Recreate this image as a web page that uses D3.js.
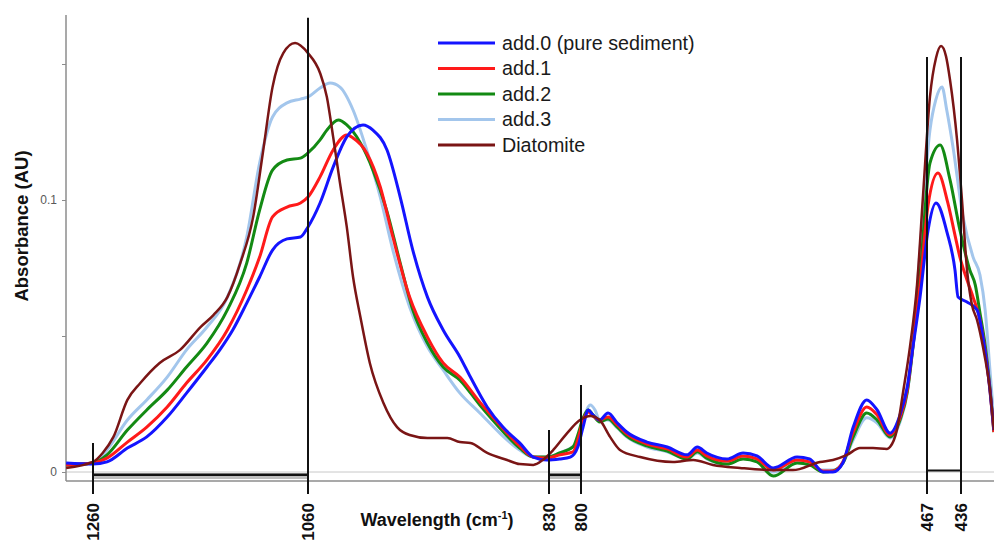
<!DOCTYPE html>
<html>
<head>
<meta charset="utf-8">
<script src="https://cdn.jsdelivr.net/npm/d3@7"></script>
<style>
  body { margin: 0; background: #fff; }
  svg { display: block; font-family: "Liberation Sans", Arial, sans-serif; }
</style>
</head>
<body>
<svg id="chart" width="994" height="543"></svg>
<script>
// spectra: [wavenumber (cm-1), absorbance]
const add0 = [[1285,0.0033],[1260,0.0029],[1247,0.0037],[1228,0.0088],[1210,0.0129],[1191,0.0202],[1173,0.0290],[1154,0.0386],[1142,0.0449],[1130,0.0522],[1117,0.0621],[1105,0.0717],[1093,0.0816],[1079.5,0.0857],[1067,0.0864],[1060,0.0901],[1048.5,0.0989],[1036,0.1121],[1023,0.1232],[1007.5,0.1276],[998,0.1257],[984.6,0.1184],[972,0.1011],[960,0.0816],[946,0.0643],[931,0.0522],[915,0.0423],[905,0.0349],[889,0.0239],[874,0.0165],[858,0.0107],[845,0.0055],[832,0.0044],[820,0.0048],[810,0.0055],[803,0.0092],[798,0.0165],[793,0.0228],[788.5,0.0210],[782,0.0191],[774,0.0217],[765,0.0180],[756,0.0147],[736.5,0.0110],[717,0.0092],[698,0.0063],[688,0.0092],[679,0.0070],[659.5,0.0048],[644,0.0070],[630.6,0.0059],[615,0.0015],[592,0.0055],[580,0.0048],[567,0.0000],[557.5,0.0000],[548,0.0033],[538,0.0165],[525,0.0265],[515,0.0228],[502.6,0.0143],[493,0.0210],[486,0.0313],[480.5,0.0460],[473.7,0.0643],[466,0.0890],[458.8,0.0989],[448.8,0.0882],[441.5,0.0743],[438.7,0.0643],[430.5,0.0625],[421.4,0.0596],[416,0.0496],[409.6,0.0301],[406,0.0154]];

const add1 = [[1285,0.0026],[1260,0.0033],[1247,0.0051],[1228,0.0110],[1210,0.0165],[1191,0.0239],[1173,0.0327],[1154,0.0412],[1135,0.0522],[1117,0.0669],[1105,0.0790],[1093,0.0938],[1079.5,0.0974],[1067,0.0989],[1060,0.1011],[1048.5,0.1085],[1036,0.1184],[1023,0.1239],[1017,0.1228],[1004,0.1173],[991,0.1048],[979,0.0864],[963,0.0643],[946,0.0496],[931,0.0401],[915,0.0349],[896,0.0257],[877,0.0173],[858,0.0096],[845,0.0055],[832,0.0051],[820,0.0063],[807.5,0.0074],[803,0.0118],[798,0.0191],[793,0.0221],[788.5,0.0206],[782,0.0191],[774,0.0202],[765,0.0173],[756,0.0140],[736.5,0.0103],[717,0.0085],[698,0.0055],[688,0.0081],[679,0.0059],[659.5,0.0040],[644,0.0059],[630.6,0.0048],[615,0.0007],[592,0.0044],[580,0.0037],[567,0.0004],[557.5,0.0004],[548,0.0037],[538,0.0147],[525,0.0239],[515,0.0210],[502.6,0.0136],[493,0.0199],[486,0.0301],[480.5,0.0467],[473.7,0.0688],[466,0.0982],[457,0.1099],[448,0.0989],[441.5,0.0871],[437,0.0790],[430.5,0.0706],[425,0.0643],[418.7,0.0559],[414,0.0449],[409.6,0.0301],[406,0.0147]];

const add2 = [[1285,0.0026],[1260,0.0033],[1247,0.0063],[1228,0.0154],[1210,0.0228],[1191,0.0301],[1173,0.0386],[1154,0.0474],[1135,0.0596],[1117,0.0768],[1105,0.0963],[1093,0.1110],[1079.5,0.1147],[1067,0.1154],[1060,0.1173],[1048.5,0.1221],[1042,0.1257],[1031,0.1294],[1023,0.1276],[1010,0.1210],[998,0.1110],[985,0.0963],[972,0.0768],[960,0.0596],[946,0.0474],[931,0.0386],[915,0.0338],[896,0.0246],[877,0.0162],[858,0.0088],[845,0.0055],[832,0.0055],[820,0.0070],[807.5,0.0092],[803,0.0136],[798,0.0199],[793,0.0228],[788.5,0.0210],[782,0.0184],[774,0.0195],[765,0.0165],[756,0.0132],[736.5,0.0096],[717,0.0077],[698,0.0048],[688,0.0074],[679,0.0051],[659.5,0.0029],[644,0.0048],[630.6,0.0037],[615,-0.0015],[592,0.0033],[580,0.0026],[567,0.0000],[557.5,0.0004],[548,0.0033],[538,0.0129],[525,0.0217],[515,0.0191],[502.6,0.0129],[493,0.0191],[486,0.0294],[480.5,0.0460],[473.7,0.0724],[464.3,0.1136],[455,0.1202],[446,0.1074],[437,0.0890],[428,0.0743],[423,0.0688],[418.7,0.0585],[414,0.0467],[409.6,0.0309],[406,0.0147]];

const add3 = [[1285,0.0026],[1260,0.0033],[1247,0.0081],[1228,0.0191],[1210,0.0265],[1191,0.0349],[1173,0.0449],[1154,0.0533],[1135,0.0643],[1117,0.0864],[1105,0.1136],[1093,0.1305],[1079.5,0.1357],[1067,0.1371],[1060,0.1379],[1048.5,0.1412],[1039,0.1430],[1029.5,0.1415],[1017,0.1331],[1004,0.1184],[991,0.1011],[979,0.0816],[963,0.0607],[946,0.0460],[931,0.0375],[915,0.0290],[896,0.0217],[877,0.0143],[858,0.0081],[845,0.0055],[832,0.0055],[820,0.0070],[804,0.0107],[798,0.0191],[791,0.0246],[786.5,0.0228],[782,0.0191],[774,0.0191],[765,0.0162],[756,0.0129],[736.5,0.0092],[717,0.0074],[698,0.0048],[688,0.0070],[679,0.0048],[659.5,0.0029],[644,0.0051],[630.6,0.0040],[615,0.0000],[592,0.0037],[580,0.0029],[567,0.0007],[557.5,0.0007],[548,0.0033],[538,0.0118],[525,0.0199],[515,0.0180],[502.6,0.0125],[493,0.0184],[486,0.0290],[480.5,0.0467],[473.7,0.0816],[464.3,0.1257],[459,0.1368],[453.3,0.1415],[449,0.1331],[443.3,0.1195],[434.2,0.0938],[425,0.0790],[418.7,0.0724],[414,0.0596],[409.6,0.0375],[406,0.0191]];

const diatomite = [[1285,0.0015],[1260,0.0037],[1251,0.0070],[1241,0.0129],[1228,0.0265],[1216,0.0327],[1198,0.0401],[1179,0.0449],[1160,0.0533],[1148,0.0577],[1135,0.0643],[1123,0.0768],[1111,0.0938],[1102,0.1173],[1093,0.1415],[1083,0.1540],[1072,0.1577],[1060,0.1540],[1048.5,0.1467],[1042,0.1379],[1036,0.1232],[1029.5,0.1063],[1023,0.0901],[1017,0.0717],[1010,0.0570],[1001,0.0401],[988,0.0254],[975,0.0165],[963,0.0136],[946,0.0125],[927,0.0125],[915,0.0110],[905,0.0107],[889,0.0070],[870,0.0044],[858,0.0029],[845,0.0026],[836,0.0044],[826,0.0081],[813,0.0143],[801,0.0191],[791,0.0206],[782,0.0191],[772,0.0129],[762.5,0.0081],[743,0.0055],[711.5,0.0037],[692,0.0044],[673,0.0026],[647,0.0015],[615,0.0007],[596,0.0007],[570,0.0037],[557.5,0.0044],[544,0.0063],[531.5,0.0088],[519,0.0088],[505.5,0.0085],[502.6,0.0092],[496,0.0154],[490,0.0294],[483.4,0.0460],[476.6,0.0688],[470.8,0.1018],[464.3,0.1379],[458.8,0.1522],[454.2,0.1566],[449.7,0.1529],[446,0.1441],[439.6,0.1221],[435.1,0.1000],[430.5,0.0743],[426,0.0614],[421.4,0.0559],[416,0.0460],[409.6,0.0301],[406,0.0154]];

const seriesNames = ['add.0 (pure sediment)', 'add.1', 'add.2', 'add.3', 'Diatomite'];
const seriesColors = ['#1414ff', '#ff1a1a', '#138a13', '#a3c6ec', '#7a1515'];

// marker wavenumbers and the absorbance where each marker line stops
const markerWaves = [1260, 1060, 830, 800, 467, 436];
const markerTops = [0.0107, 0.167, 0.0154, 0.032, 0.1526, 0.1526];
const yTicks = [0, 0.05, 0.1, 0.15];
const yTickLabels = ['0', '', '0.1', ''];

const svg = d3.select('#chart');
const plotLeft = 66, plotRight = 994, plotTop = 15, plotBottom = 481;

const x = d3.scaleLinear().domain(markerWaves).range([93, 308, 549, 581, 927, 961]);
const y = d3.scaleLinear().domain([0, 0.1]).range([472, 200]);

svg.append('clipPath').attr('id', 'plot')
    .append('rect').attr('x', plotLeft).attr('y', plotTop)
    .attr('width', plotRight - plotLeft).attr('height', plotBottom - plotTop);

// zero line
svg.append('line')
    .attr('x1', plotLeft).attr('x2', plotRight).attr('y1', y(0)).attr('y2', y(0))
    .attr('stroke', '#c8c8c8').attr('stroke-width', 1);

// integration baselines
[[1260, 1060], [830, 800]].forEach(b => {
    svg.append('rect')
        .attr('x', x(b[0])).attr('width', x(b[1]) - x(b[0]))
        .attr('y', 473.5).attr('height', 5.5)
        .attr('fill', '#bdbdbd');
    svg.append('line')
        .attr('x1', x(b[0])).attr('x2', x(b[1])).attr('y1', 474.8).attr('y2', 474.8)
        .attr('stroke', '#111').attr('stroke-width', 2.5);
});
svg.append('line')
    .attr('x1', x(467)).attr('x2', x(436)).attr('y1', 470.5).attr('y2', 470.5)
    .attr('stroke', '#111').attr('stroke-width', 2);

// axes frame
svg.append('line').attr('x1', plotLeft).attr('x2', plotLeft).attr('y1', plotTop).attr('y2', plotBottom)
    .attr('stroke', '#8c8c8c').attr('stroke-width', 1.5);
svg.append('line').attr('x1', plotLeft).attr('x2', plotRight).attr('y1', plotBottom).attr('y2', plotBottom)
    .attr('stroke', '#8c8c8c').attr('stroke-width', 1.5);

const yAxis = svg.append('g')
    .attr('transform', `translate(${plotLeft},0)`)
    .call(d3.axisLeft(y).tickValues(yTicks).tickSize(4).tickPadding(5)
        .tickFormat((d, i) => yTickLabels[i]));
yAxis.select('.domain').remove();
yAxis.selectAll('line').attr('stroke', '#8c8c8c');
yAxis.selectAll('text').attr('fill', '#595959').style('font-size', '12px')
    .style('font-family', '"Liberation Sans", Arial, sans-serif');

// spectra
const line = d3.line()
    .x(d => x(d[0]))
    .y(d => y(d[1]))
    .curve(d3.curveMonotoneX);

const spectra = [add0, add1, add2, add3, diatomite];
const drawOrder = [3, 2, 1, 0, 4];
const g = svg.append('g').attr('clip-path', 'url(#plot)');
drawOrder.forEach(i => {
    g.append('path')
        .datum(spectra[i].slice().sort((a, b) => b[0] - a[0]))
        .attr('d', line)
        .attr('fill', 'none')
        .attr('stroke', seriesColors[i])
        .attr('stroke-width', i === 4 ? 2.5 : 3)
        .attr('stroke-linejoin', 'round');
});

// marker lines and labels
markerWaves.forEach((w, i) => {
    svg.append('line')
        .attr('x1', x(w)).attr('x2', x(w))
        .attr('y1', y(markerTops[i])).attr('y2', 494)
        .attr('stroke', '#111').attr('stroke-width', 2);
    svg.append('text')
        .attr('transform', `translate(${x(w)},503) rotate(-90)`)
        .attr('text-anchor', 'end')
        .attr('dy', '0.35em')
        .style('font-size', '17px').style('font-weight', 'bold')
        .attr('fill', '#111')
        .text(w);
});

// axis titles
svg.append('text')
    .attr('transform', 'translate(22,226) rotate(-90)')
    .attr('text-anchor', 'middle').attr('dy', '0.35em')
    .style('font-size', '18.5px').style('font-weight', 'bold').attr('fill', '#111')
    .text('Absorbance (AU)');

const xt = svg.append('text')
    .attr('x', 437).attr('y', 526)
    .attr('text-anchor', 'middle')
    .style('font-size', '18px').style('font-weight', 'bold').attr('fill', '#111');
xt.append('tspan').text('Wavelength (cm');
xt.append('tspan').attr('dy', -7).style('font-size', '11px').text('-1');
xt.append('tspan').attr('dy', 7).text(')');

// legend
const legend = svg.append('g');
seriesNames.forEach((name, i) => {
    const ly = 43 + i * 25.5;
    legend.append('line')
        .attr('x1', 438).attr('x2', 495).attr('y1', ly).attr('y2', ly)
        .attr('stroke', seriesColors[i]).attr('stroke-width', 3);
    legend.append('text')
        .attr('x', 502).attr('y', ly).attr('dy', '0.35em')
        .style('font-size', '19.7px').attr('fill', '#1a1a1a')
        .text(name);
});
</script>
</body>
</html>
